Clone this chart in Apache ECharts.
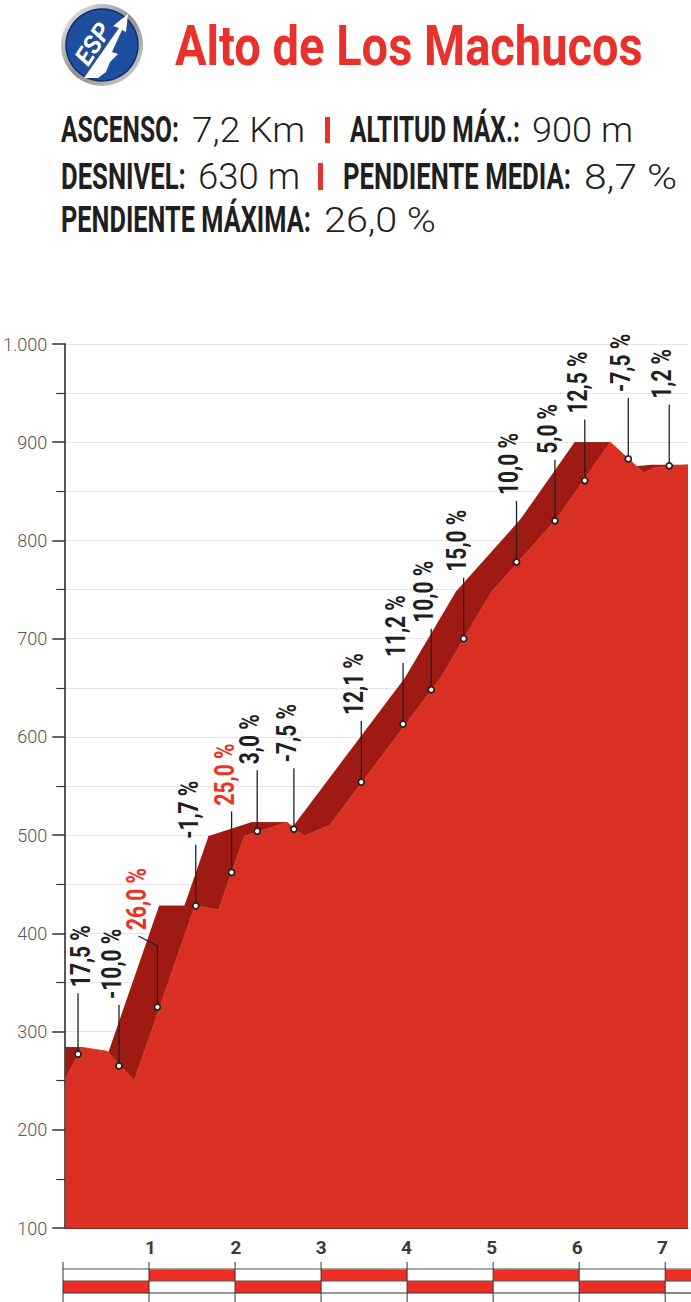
<!DOCTYPE html>
<html>
<head>
<meta charset="utf-8">
<script src="https://cdn.jsdelivr.net/npm/echarts@6/dist/echarts.min.js"></script>
<style>
html,body{margin:0;padding:0;background:#fff;}
#c{width:691px;height:1302px;}
</style>
</head>
<body>
<div id="c"></div>
<script>
// ---------- DATA ----------
const climbName = 'Alto de Los Machucos';
const statLabels = ['ASCENSO:', 'ALTITUD MÁX.:', 'DESNIVEL:', 'PENDIENTE MEDIA:', 'PENDIENTE MÁXIMA:'];
const statValues = ['7,2 Km', '900 m', '630 m', '8,7 %', '26,0 %'];

// profile (km, altitude m)
const profileKm  = [0, 0.19, 0.49, 0.81, 1.52, 1.80, 2.10, 2.60, 2.80, 3.10, 4.40, 5.00, 5.76, 6.39, 6.78, 6.91, 7.30];
const profileAlt = [251, 284, 280, 250, 428, 424, 499, 513, 499, 510, 660, 748, 822, 900, 869, 874, 877];

// gradient markers
const slopeLabels = ['17,5 %', '-10,0 %', '26,0 %', '-1,7 %', '25,0 %', '3,0 %', '-7,5 %', '12,1 %', '11,2 %', '10,0 %', '15,0 %', '10,0 %', '5,0 %', '12,5 %', '-7,5 %', '1,2 %'];
const markerKm  = [0.15, 0.63, 1.08, 1.53, 1.95, 2.25, 2.68, 3.47, 3.96, 4.29, 4.67, 5.29, 5.74, 6.09, 6.60, 7.08];
const markerAlt = [277, 265, 325, 428, 462, 504, 506, 554, 613, 648, 700, 778, 820, 861, 883, 876];

// axes
const altMin = 100, altMax = 1000, altStep = 100;
const kmMax = profileKm[profileKm.length - 1];

// ---------- STYLE / LAYOUT ----------
const FRONT = '#d93023', DARK = '#9e1a12', LABEL_RED = '#ee3124', INK = '#1f1f1f', BAND_RED = '#ee2d24';
const SHIFT_KM = 0.42;      // depth of the 3D extrusion
const LEADER = 61;          // px
const LABEL_FONT = 'bold 27px Roboto';

const ctx = document.createElement('canvas').getContext('2d');
function fit(text, font, width) { ctx.font = font; return width / ctx.measureText(text).width; }
const LABEL_SCALE = fit('12,5 %', LABEL_FONT, 62);
const labelTweak = {0: {dx: 10}, 2: {bend: [-19, -10], dx: 6}};

function htext(text, x, y, font, width, color) {
  return {type: 'text', x: x, y: y, scaleX: fit(text, font, width), silent: true,
    style: {text: text, font: font, fill: color, align: 'left', textAlign: 'left', verticalAlign: 'middle', textVerticalAlign: 'middle'}};
}

const graphics = [];
// logo
graphics.push({type: 'circle', shape: {cx: 102, cy: 45, r: 41}, silent: true,
  style: {fill: new echarts.graphic.LinearGradient(0, 0, 1, 1, [{offset: 0, color: '#f4f4f4'}, {offset: 0.5, color: '#8f8f8f'}, {offset: 1, color: '#d6d6d6'}])}});
graphics.push({type: 'circle', shape: {cx: 102, cy: 45, r: 36}, silent: true, style: {fill: '#1d4f9e', stroke: '#0f2f6b', lineWidth: 1.5}});
graphics.push({type: 'polygon', silent: true, shape: {points: [[84, 78], [119, 28], [113, 26], [128, 14], [126, 32], [122, 30], [112, 52], [118, 54], [110, 62], [106, 72], [98, 78]]}, style: {fill: '#fff'}});
graphics.push({type: 'text', x: 93, y: 44, rotation: 1.0, silent: true,
  style: {text: 'ESP', font: 'italic bold 25px Roboto', fill: '#fff', stroke: '#16407f', lineWidth: 1, align: 'center', textAlign: 'center', verticalAlign: 'middle', textVerticalAlign: 'middle'}});
// title
graphics.push(htext(climbName, 175, 46, 'bold 56px Roboto', 468, '#e8312a'));
// stats
const rowY = [130, 176.5, 219.5];
const statLayout = [
  {row: 0, lx: 61, lw: 118, vx: 192, vw: 113},
  {row: 0, lx: 350, lw: 170, vx: 532, vw: 101},
  {row: 1, lx: 61, lw: 125, vx: 198, vw: 102},
  {row: 1, lx: 343, lw: 228, vx: 584, vw: 93},
  {row: 2, lx: 61, lw: 250, vx: 324, vw: 112}
];
statLabels.forEach((lab, i) => {
  const L = statLayout[i];
  graphics.push(htext(lab, L.lx, rowY[L.row], 'bold 37px Roboto', L.lw, INK));
  graphics.push(htext(statValues[i], L.vx, rowY[L.row], '300 36px Roboto', L.vw, INK));
});
graphics.push({type: 'rect', shape: {x: 325, y: 117, width: 5, height: 26}, style: {fill: '#e8312a'}, silent: true});
graphics.push({type: 'rect', shape: {x: 318, y: 163, width: 5, height: 27}, style: {fill: '#e8312a'}, silent: true});

// ---------- SERIES DATA ----------
const frontData = profileKm.map((k, i) => [k, profileAlt[i]]);
const segData = profileKm.slice(1).map((k, i) => [profileKm[i], profileAlt[i], k, profileAlt[i + 1]]);
const markerData = markerKm.map((k, i) => [k, markerAlt[i]]);
const bandData = [];
for (let k = 0; k < kmMax; k++) bandData.push([k, Math.min(k + 1, kmMax)]);

const fmtThousands = v => String(v).replace(/\B(?=(\d{3})+(?!\d))/g, '.');

const option = {
  animation: false,
  backgroundColor: '#fff',
  graphic: {elements: graphics},
  grid: [
    {left: 63, right: 0, top: 344, bottom: 74, containLabel: false},
    {left: 63, right: 0, top: 1269, height: 24, containLabel: false}
  ],
  xAxis: [
    {type: 'value', gridIndex: 0, min: 0, max: kmMax, interval: 1,
      axisLine: {show: true, lineStyle: {color: '#8e2a22', width: 1}},
      axisTick: {show: false}, splitLine: {show: false},
      axisLabel: {margin: 10, color: '#3a3a3a', fontSize: 19, fontWeight: 'bold', fontFamily: '"Liberation Sans Narrow", Roboto, sans-serif',
        formatter: v => (v > 0 && Number.isInteger(v)) ? String(v) : ''}},
    {type: 'value', gridIndex: 1, min: 0, max: kmMax, show: false}
  ],
  yAxis: [
    {type: 'value', gridIndex: 0, min: altMin, max: altMax, interval: altStep,
      axisLine: {show: true, lineStyle: {color: '#222', width: 1.5}},
      axisTick: {show: true, length: 13, lineStyle: {color: '#333', width: 1.5}},
      minorTick: {show: true, splitNumber: 2, length: 9, lineStyle: {color: '#333', width: 1.2}},
      splitLine: {show: true, lineStyle: {color: '#e6e6e6', width: 1}},
      minorSplitLine: {show: true, lineStyle: {color: '#e6e6e6', width: 1}},
      axisLabel: {margin: 18, color: '#555', fontSize: 18, fontWeight: 300, fontFamily: 'Roboto, sans-serif', formatter: fmtThousands}},
    {type: 'value', gridIndex: 1, min: 0, max: 2, show: false}
  ],
  series: [
    { // extruded back face
      type: 'custom', xAxisIndex: 0, yAxisIndex: 0, clip: true, z: 2, silent: true,
      data: segData,
      renderItem: (params, api) => {
        const x0 = api.value(0), y0 = api.value(1), x1 = api.value(2), y1 = api.value(3);
        const a = api.coord([x0, y0]), b = api.coord([x1, y1]);
        const as = api.coord([x0 - SHIFT_KM, y0]), bs = api.coord([x1 - SHIFT_KM, y1]);
        const base = api.coord([0, altMin])[1];
        const mid = y1 > y0 ? bs : a;
        return {type: 'polygon', shape: {points: [[as[0], base], as, mid, b, [b[0], base]]}, style: {fill: DARK}};
      }
    },
    { // front face
      type: 'line', xAxisIndex: 0, yAxisIndex: 0, z: 3, silent: true,
      data: frontData, symbol: 'none',
      lineStyle: {color: '#e0493b', width: 0.8},
      areaStyle: {color: FRONT, opacity: 1, origin: 'start'}
    },
    { // gradient labels
      type: 'custom', xAxisIndex: 0, yAxisIndex: 0, clip: false, z: 6, silent: true,
      data: markerData,
      renderItem: (params, api) => {
        const i = params.dataIndex;
        const p = api.coord([api.value(0), api.value(1)]);
        const tw = labelTweak[i] || {};
        const top = p[1] - LEADER;
        let endX = p[0], endY = top;
        const children = [];
        if (tw.bend) {
          endX = p[0] + tw.bend[0]; endY = top + tw.bend[1];
          children.push({type: 'polyline', shape: {points: [[p[0], p[1]], [p[0], top], [endX, endY]]}, style: {stroke: '#222', lineWidth: 1.3, fill: null}});
        } else {
          children.push({type: 'line', shape: {x1: p[0], y1: p[1], x2: p[0], y2: top}, style: {stroke: '#222', lineWidth: 1.3}});
        }
        children.push({type: 'circle', shape: {cx: p[0], cy: p[1], r: 3}, style: {fill: '#fff', stroke: '#222', lineWidth: 1.8}});
        const txt = slopeLabels[i];
        const val = parseFloat(txt.replace(',', '.'));
        children.push({type: 'text', x: endX - 7 + (tw.dx || 0), y: endY - 6, rotation: Math.PI / 2, scaleX: LABEL_SCALE,
          style: {text: txt, font: LABEL_FONT, fill: val >= 20 ? LABEL_RED : INK, align: 'left', textAlign: 'left', verticalAlign: 'middle', textVerticalAlign: 'middle'}});
        return {type: 'group', children: children};
      }
    },
    { // km band
      type: 'custom', xAxisIndex: 1, yAxisIndex: 1, clip: false, z: 2, silent: true,
      data: bandData,
      renderItem: (params, api) => {
        const i = params.dataIndex;
        const p0 = api.coord([api.value(0), 2]), p1 = api.coord([api.value(1), 1]), p2 = api.coord([api.value(1), 0]);
        const yTop = p0[1], yMid = p1[1], yBot = p2[1];
        const w = p1[0] - p0[0];
        return {type: 'group', children: [
          {type: 'rect', shape: {x: p0[0], y: yTop, width: w, height: yMid - yTop}, style: {fill: i % 2 ? BAND_RED : '#fff'}},
          {type: 'rect', shape: {x: p0[0], y: yMid, width: w, height: yBot - yMid}, style: {fill: i % 2 ? '#fff' : BAND_RED}},
          {type: 'line', shape: {x1: p0[0], y1: yTop, x2: p1[0], y2: yTop}, style: {stroke: '#8a8a8a', lineWidth: 1.5}},
          {type: 'line', shape: {x1: p0[0], y1: yMid, x2: p1[0], y2: yMid}, style: {stroke: '#555', lineWidth: 1.2}},
          {type: 'line', shape: {x1: p0[0], y1: yBot, x2: p1[0], y2: yBot}, style: {stroke: '#333', lineWidth: 1.2}},
          {type: 'line', shape: {x1: p0[0], y1: yTop - 7, x2: p0[0], y2: yBot + 9}, style: {stroke: '#333', lineWidth: 1}}
        ]};
      }
    }
  ]
};

const chart = echarts.init(document.getElementById('c'), null, {renderer: 'svg', width: 691, height: 1302});
chart.setOption(option);
</script>
</body>
</html>
